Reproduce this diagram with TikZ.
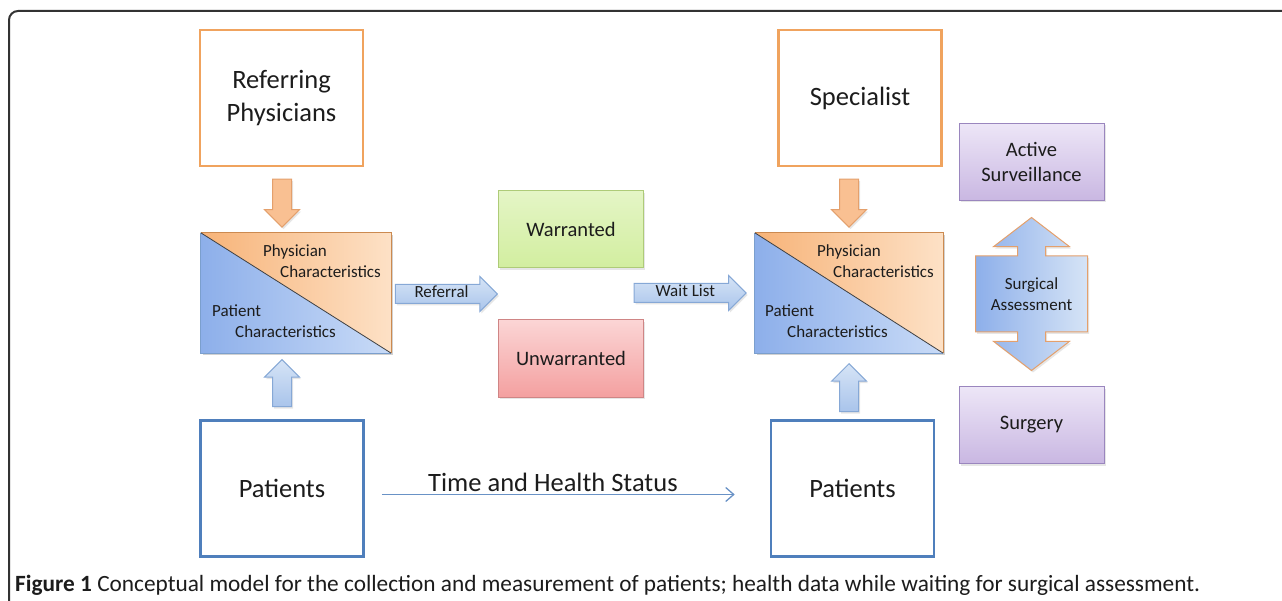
\documentclass[tikz,border=0pt]{standalone}
\usepackage{fontspec}
\setmainfont{Carlito}
\usetikzlibrary{arrows.meta, shapes.arrows, shadows, calc}
\definecolor{boxorange}{HTML}{F0A35E}
\definecolor{boxblue}{HTML}{4F7FBC}
\definecolor{physdark}{HTML}{F7B378}
\definecolor{physlight}{HTML}{FDE1C6}
\definecolor{patdark}{HTML}{8DAFEA}
\definecolor{patlight}{HTML}{C9DBF7}
\definecolor{arrowblue}{HTML}{D6E4F6}
\definecolor{arrowbluedark}{HTML}{A9C4EB}
\definecolor{arrowblueline}{HTML}{86A8D6}
\definecolor{arroworange}{HTML}{F9C092}
\definecolor{arroworangeline}{HTML}{E4A06C}
\definecolor{okgreen}{HTML}{D2EE9F}
\definecolor{okgreenlight}{HTML}{E4F5C6}
\definecolor{okgreenline}{HTML}{AECB78}
\definecolor{badred}{HTML}{F4A0A0}
\definecolor{badredlight}{HTML}{FBD5D5}
\definecolor{badredline}{HTML}{CF8585}
\definecolor{lilac}{HTML}{C9B7E2}
\definecolor{lilaclight}{HTML}{EDE6F7}
\definecolor{lilacline}{HTML}{9A86BE}
\definecolor{ink}{HTML}{1C1C1C}

\begin{document}
\begin{tikzpicture}
[x=1pt, y=-1pt, text=ink,
 bigbox/.style={draw, line width=2.6pt, minimum width=163pt, minimum height=136pt, align=center, font=\fontsize{26.5}{33}\selectfont},
 refbox/.style={bigbox, draw=boxorange},
 patbox/.style={bigbox, draw=boxblue},
 shadebox/.style={draw, line width=1pt, minimum width=145pt, minimum height=77pt, align=center, font=\fontsize{20.5}{25}\selectfont, drop shadow={opacity=0.2, shadow xshift=1.5pt, shadow yshift=-2pt}},
 smalltext/.style={anchor=west, align=left, inner sep=0pt, font=\fontsize{17}{21}\selectfont},
 blockarrow/.style={single arrow, line width=1pt, single arrow head extend=8pt, inner sep=9pt, drop shadow={opacity=0.2, shadow xshift=1.5pt, shadow yshift=-2pt}},
 bluearrow/.style={blockarrow, draw=arrowblueline, top color=arrowblue, bottom color=arrowbluedark},
 orangearrow/.style={blockarrow, draw=arroworangeline, fill=arroworange},
 labelarrow/.style={bluearrow, text height=11pt, text depth=3pt, inner ysep=2pt, inner xsep=4pt, font=\fontsize{17}{21}\selectfont},
 timeline/.style={-{Straight Barb[length=8pt, width=14pt]}, line width=1.3pt, draw=boxblue!85!white}
]
\useasboundingbox (0,0) rectangle (1282,601);
\draw[line width=2pt, black!80, rounded corners=9pt] (9,601) -- (9,11) -- (1282,11);

% people
\node[refbox] (refphys) at (281.5,98) {Referring\\Physicians};
\node[patbox] (lpat) at (282,488.5) {Patients};
\node[refbox] (spec) at (860,98) {Specialist};
\node[patbox] (rpat) at (852.5,488.5) {Patients};

% characteristics boxes
\node[minimum width=190pt, minimum height=120pt, inner sep=0pt] (lsplit) at (296,293) {};
\node[minimum width=188pt, minimum height=120pt, inner sep=0pt] (rsplit) at (849,293) {};
\foreach \s in {lsplit,rsplit}{
  \fill[black, opacity=0.18] ([shift={(2pt,-2pt)}]\s.north west) rectangle ([shift={(2pt,-2pt)}]\s.south east);
  \shade[left color=physdark, right color=physlight] (\s.north west) -- (\s.north east) -- (\s.south east) -- cycle;
  \shade[left color=patdark, right color=patlight] (\s.north west) -- (\s.south east) -- (\s.south west) -- cycle;
  \draw[boxorange!85!black, line width=1pt] (\s.north west) -- (\s.north east) -- (\s.south east);
  \draw[boxblue!75!white, line width=1pt] (\s.north west) -- (\s.south west) -- (\s.south east);
  \draw[black!75, line width=0.8pt] (\s.north west) -- (\s.south east);
}
\node[smalltext] (lphys) at (263,261.5) {Physician\\\hspace*{17pt}Characteristics};
\node[smalltext] (lpatc) at (212,321) {Patient\\\hspace*{23pt}Characteristics};
\node[smalltext] (rphys) at (817,261.5) {Physician\\\hspace*{16pt}Characteristics};
\node[smalltext] (rpatc) at (765,321) {Patient\\\hspace*{22pt}Characteristics};

% referral outcome
\node[shadebox, draw=okgreenline, top color=okgreenlight, bottom color=okgreen] (warr) at (571,229.5) {Warranted};
\node[shadebox, draw=badredline, top color=badredlight, bottom color=badred] (unwarr) at (571,358.5) {Unwarranted};

% assessment outcome
\node[shadebox, draw=lilacline, top color=lilaclight, bottom color=lilac] (active) at (1031.5,162) {Active\\Surveillance};
\node[shadebox, draw=lilacline, top color=lilaclight, bottom color=lilac] (surgery) at (1031.5,425) {Surgery};
\node[arrow box, arrow box arrows={north:38pt, south:38pt}, arrow box shaft width=28pt, arrow box head extend=24pt, arrow box tip angle=105,
      minimum width=112pt, minimum height=76pt, line width=1pt, draw=arroworangeline, left color=patdark, right color=arrowblue,
      align=center, font=\fontsize{17}{21}\selectfont, drop shadow={opacity=0.2, shadow xshift=1.5pt, shadow yshift=-2pt}]
      (assess) at (1031.5,294) {Surgical\\Assessment};

% block arrows
\node[orangearrow, rotate=-90, minimum height=48pt, anchor=tip] (refdown) at ([yshift=5pt]lsplit.north -| lpat.north) {};
\node[bluearrow, rotate=90, minimum height=47pt, anchor=tail] (lpatup) at ([yshift=12pt]lpat.north) {};
\node[orangearrow, rotate=-90, minimum height=48pt, anchor=tip] (specdown) at ([yshift=5pt]rsplit.north) {};
\node[bluearrow, rotate=90, minimum height=48pt, anchor=tail] (rpatup) at ([yshift=7pt]rpat.north -| rsplit.south) {};
\node[labelarrow, minimum height=102pt, anchor=tip] (referral) at ($(warr.south west)!0.5!(unwarr.north west)$) {Referral};
\node[labelarrow, minimum height=112pt, anchor=tip] (waitlist) at ([xshift=-8pt]rsplit.west) {Wait List};

% time line
\coordinate (tstart) at ($(lpat.east)+(17,6)$);
\coordinate (tend) at ($(rpat.west)+(-35,6)$);
\draw[timeline] (tstart) -- node[pos=0.485, above, inner sep=2pt, font=\fontsize{26.5}{33}\selectfont] (tlabel) {Time and Health Status} (tend);

\node[anchor=base west, inner sep=0pt, font=\fontsize{23.3}{28}\selectfont] (caption) at (15,591)
  {\textbf{Figure 1} Conceptual model for the collection and measurement of patients; health data while waiting for surgical assessment.};
\end{tikzpicture}
\end{document}
